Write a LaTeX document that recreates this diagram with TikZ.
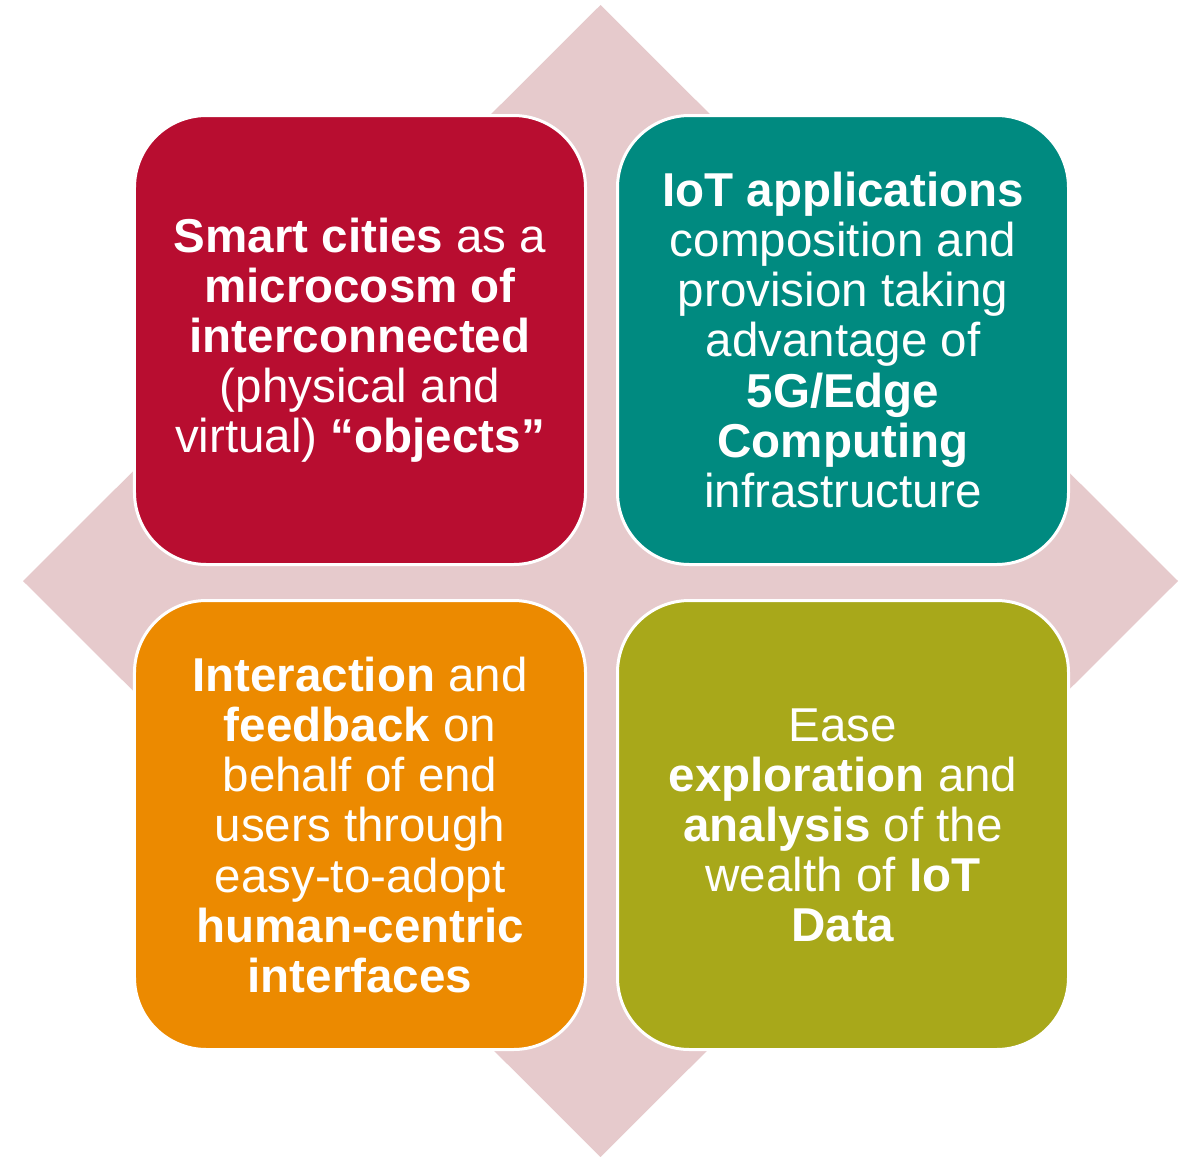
\documentclass[tikz,border=0pt]{standalone}
\usepackage{fontspec}
\setmainfont{Liberation Sans}
\definecolor{diamcol}{HTML}{E6CACC}
\definecolor{redcol}{HTML}{B80D30}
\definecolor{tealcol}{HTML}{008A80}
\definecolor{orangecol}{HTML}{EC8A00}
\definecolor{olivecol}{HTML}{A8A81A}
\tikzset{
  card/.style={rectangle, rounded corners=72bp, draw=white, line width=3bp,
    minimum width=451bp, minimum height=449bp, inner sep=0pt,
    text=white, align=center,
    font=\fontsize{47.7pt}{50.2pt}\selectfont},
  diam/.style={fill=diamcol}
}
\begin{document}
\begin{tikzpicture}[x=1bp,y=-1bp]
\useasboundingbox (0,0) rectangle (1192,1157);
\fill[diam] (600.5,5) -- (1178,581) -- (600.5,1157) -- (23,581) -- cycle;
\node[card, fill=redcol] (tl) at (360,340) {\textbf{Smart cities} as a\\ \textbf{microcosm of}\\ \textbf{interconnected}\\ (physical and\\ virtual) \textbf{“objects”}};
\node[card, fill=tealcol] (tr) at (843,340) {\textbf{IoT applications}\\ composition and\\ provision taking\\ advantage of\\ \textbf{5G/Edge}\\ \textbf{Computing}\\ infrastructure};
\node[card, fill=orangecol] (bl) at (360,825) {\textbf{Interaction} and\\ \textbf{feedback} on\\ behalf of end\\ users through\\ easy-to-adopt\\ \textbf{human-centric}\\ \textbf{interfaces}};
\node[card, fill=olivecol] (br) at (843,825) {Ease\\ \textbf{exploration} and\\ \textbf{analysis} of the\\ wealth of \textbf{IoT}\\ \textbf{Data}};
\end{tikzpicture}
\end{document}
